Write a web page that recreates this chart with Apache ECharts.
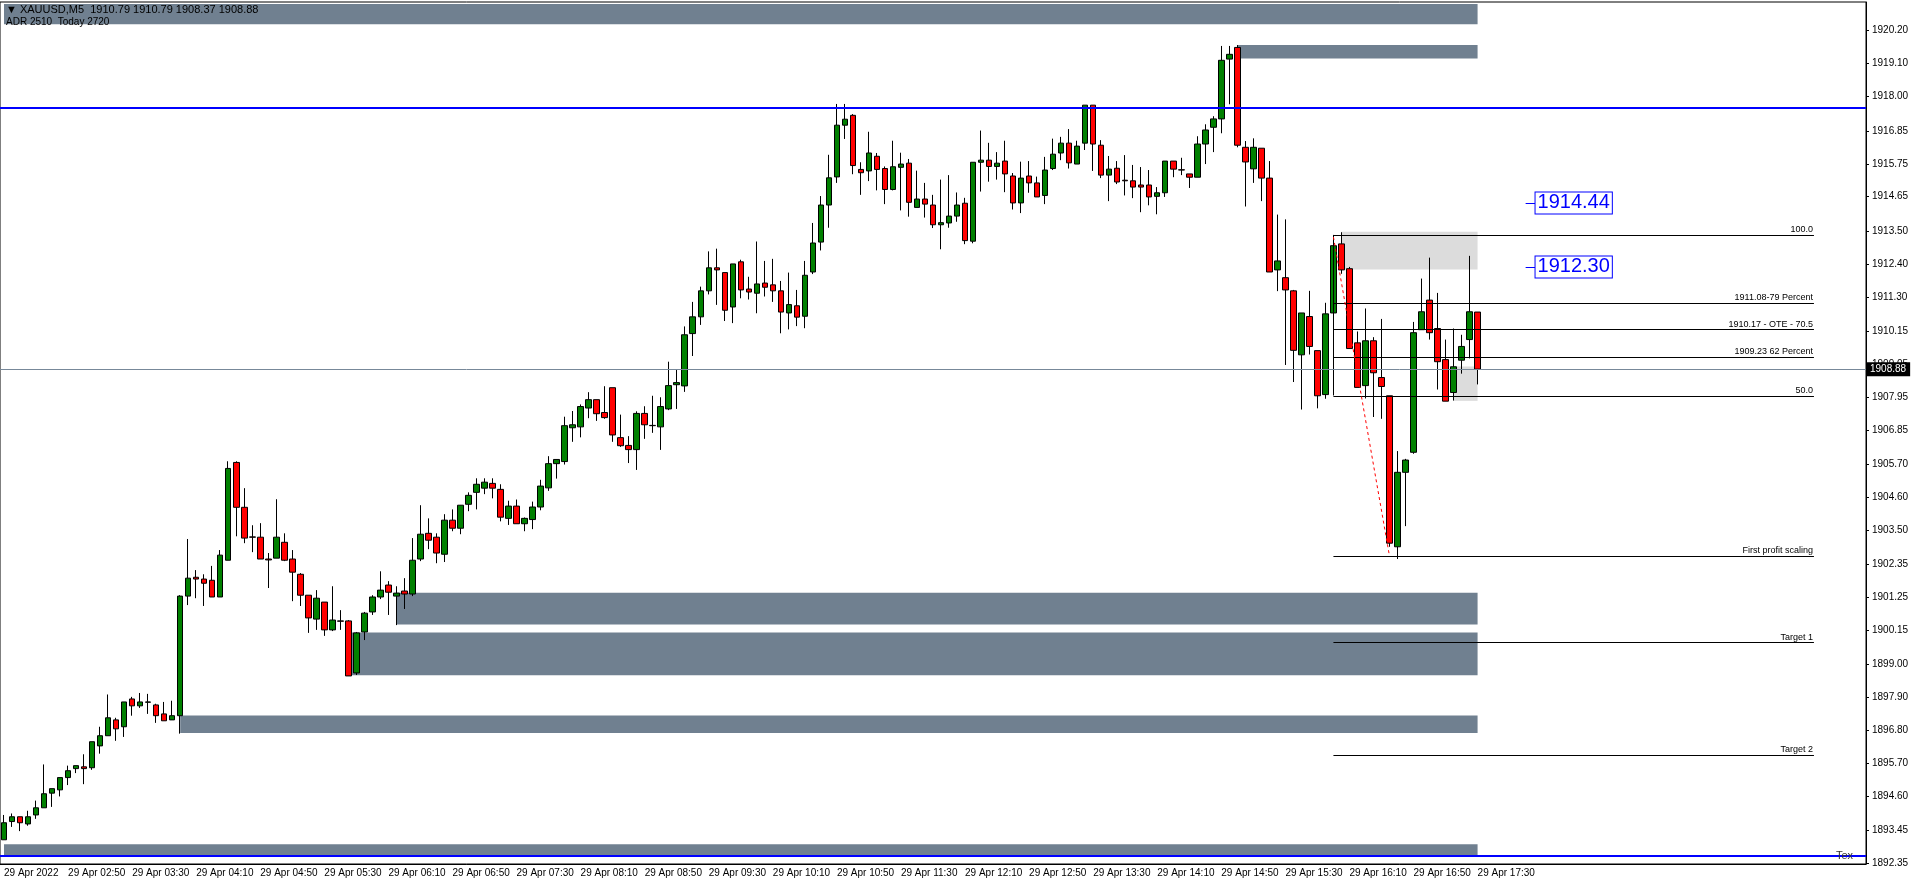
<!DOCTYPE html>
<html>
<head>
<meta charset="utf-8">
<script src="https://cdn.jsdelivr.net/npm/echarts@6/dist/echarts.min.js"></script>
<style>
  html, body { margin: 0; padding: 0; background: #fff; }
  #chart { width: 1912px; height: 885px; }
</style>
</head>
<body>
<div id="chart"></div>
<script>
// XAUUSD M5, 29 Apr 2022, first bar 02:10 -- rows are [open, high, low, close]
var bars = [
  [1893.14,1893.97,1893.14,1893.71],[1893.75,1894.02,1893.57,1893.91],[1893.91,1893.91,1893.43,1893.71],
  [1893.67,1894.11,1893.61,1893.91],[1893.97,1894.45,1893.84,1894.21],[1894.21,1895.66,1894.21,1894.68],
  [1894.70,1894.85,1894.24,1894.85],[1894.81,1895.22,1894.59,1895.22],[1895.22,1895.62,1894.97,1895.45],
  [1895.52,1895.62,1895.37,1895.62],[1895.58,1896.00,1895.00,1895.52],[1895.55,1896.42,1895.48,1896.42],
  [1896.28,1896.92,1896.02,1896.62],[1896.62,1898.00,1896.62,1897.22],[1897.15,1897.22,1896.45,1896.85],
  [1896.92,1897.75,1896.58,1897.75],[1897.85,1897.92,1897.29,1897.62],[1897.62,1898.05,1897.55,1897.75],
  [1897.74,1898.02,1897.35,1897.75],[1897.65,1897.69,1897.05,1897.29],[1897.35,1897.75,1897.12,1897.12],
  [1897.15,1897.79,1897.15,1897.29],[1897.29,1901.32,1896.69,1901.29],[1901.29,1903.20,1900.99,1901.89],
  [1901.92,1902.16,1901.22,1901.86],[1901.86,1902.02,1900.96,1901.72],[1901.82,1902.30,1901.26,1901.26],
  [1901.26,1902.83,1901.26,1902.66],[1902.49,1905.80,1902.49,1905.56],[1905.76,1905.80,1903.29,1904.26],
  [1904.26,1904.90,1903.06,1903.23],[1903.27,1903.66,1902.76,1903.26],[1903.26,1903.73,1902.53,1902.53],
  [1902.53,1902.73,1901.56,1902.50],[1902.56,1904.53,1902.56,1903.26],[1903.09,1903.39,1902.46,1902.49],
  [1902.53,1902.83,1901.12,1902.09],[1902.02,1902.06,1900.96,1901.32],[1901.32,1901.32,1900.06,1900.56],
  [1900.52,1901.49,1900.16,1901.22],[1901.09,1901.09,1899.96,1900.16],[1900.16,1901.62,1900.12,1900.49],
  [1900.46,1900.82,1900.16,1900.45],[1900.46,1900.49,1898.62,1898.62],[1898.72,1900.09,1898.65,1900.06],
  [1900.09,1900.76,1899.82,1900.72],[1900.76,1901.32,1900.66,1901.26],[1901.26,1902.12,1901.19,1901.49],
  [1901.66,1901.79,1900.66,1901.42],[1901.29,1901.62,1900.32,1901.39],[1901.46,1901.89,1900.86,1901.36],
  [1901.36,1903.23,1901.29,1902.49],[1902.53,1904.33,1902.46,1903.36],[1903.39,1903.89,1902.86,1903.16],
  [1903.26,1903.39,1902.39,1902.73],[1902.69,1904.03,1902.43,1903.83],[1903.83,1904.19,1903.46,1903.56],
  [1903.56,1904.33,1903.36,1904.33],[1904.36,1904.76,1904.13,1904.66],[1904.76,1905.23,1904.19,1905.03],
  [1904.90,1905.23,1904.70,1905.10],[1905.06,1905.23,1904.56,1904.90],[1904.86,1905.03,1903.79,1903.93],
  [1903.89,1904.48,1903.67,1904.30],[1904.30,1904.52,1903.71,1903.71],[1903.71,1903.92,1903.46,1903.89],
  [1903.85,1904.45,1903.53,1904.27],[1904.27,1905.18,1904.16,1904.97],[1904.91,1905.97,1904.81,1905.72],
  [1905.72,1905.86,1905.22,1905.86],[1905.79,1907.29,1905.69,1906.99],[1906.92,1907.48,1906.45,1907.02],
  [1906.95,1907.70,1906.60,1907.63],[1907.58,1908.11,1907.24,1907.86],[1907.86,1907.86,1907.15,1907.39],
  [1907.43,1908.31,1907.22,1907.26],[1908.26,1908.26,1906.45,1906.68],[1906.59,1907.36,1906.28,1906.32],
  [1906.33,1906.64,1905.74,1906.19],[1906.19,1907.47,1905.51,1907.40],[1907.40,1907.64,1906.55,1907.02],
  [1906.99,1907.99,1906.75,1907.00],[1906.95,1907.94,1906.18,1907.63],[1907.55,1909.13,1907.51,1908.33],
  [1908.36,1908.87,1907.55,1908.43],[1908.32,1910.31,1908.12,1910.03],[1910.07,1911.13,1909.32,1910.63],
  [1910.63,1911.64,1910.36,1911.50],[1911.50,1912.82,1911.38,1912.27],[1912.27,1912.91,1911.03,1912.20],
  [1912.11,1912.11,1910.49,1910.85],[1910.96,1912.40,1910.42,1912.40],[1912.47,1912.54,1911.25,1911.53],
  [1911.56,1911.97,1911.21,1911.46],[1911.42,1913.15,1910.75,1911.73],[1911.76,1912.50,1911.31,1911.62],
  [1911.70,1912.57,1911.13,1911.50],[1911.50,1911.83,1910.08,1910.79],[1910.76,1912.11,1910.21,1911.04],
  [1911.00,1911.53,1910.32,1910.62],[1910.65,1912.50,1910.25,1912.02],[1912.13,1913.77,1912.06,1913.10],
  [1913.13,1914.67,1912.85,1914.37],[1914.37,1916.05,1913.61,1915.28],[1915.31,1917.75,1915.11,1917.04],
  [1917.04,1917.75,1916.58,1917.24],[1917.37,1917.41,1915.40,1915.69],[1915.56,1915.80,1914.71,1915.45],
  [1915.51,1916.82,1915.17,1916.11],[1916.00,1916.11,1914.86,1915.56],[1915.59,1915.66,1914.40,1914.89],
  [1914.89,1916.52,1914.86,1915.65],[1915.63,1916.12,1914.19,1915.74],[1915.77,1915.91,1913.98,1914.46],
  [1914.29,1915.52,1914.29,1914.57],[1914.57,1915.11,1913.95,1914.40],[1914.37,1914.71,1913.60,1913.71],
  [1913.71,1915.22,1912.89,1913.78],[1913.77,1915.37,1913.61,1914.00],[1914.00,1914.79,1913.81,1914.37],
  [1914.43,1914.61,1913.06,1913.18],[1913.16,1915.80,1913.09,1915.80],[1915.80,1916.86,1914.82,1915.87],
  [1915.87,1916.45,1915.15,1915.66],[1915.66,1916.14,1915.22,1915.77],[1915.84,1916.52,1914.80,1915.41],
  [1915.34,1915.44,1914.22,1914.44],[1914.44,1915.82,1914.10,1915.27],[1915.34,1915.84,1914.78,1915.11],
  [1915.11,1915.32,1914.64,1914.64],[1914.69,1915.98,1914.40,1915.54],[1915.59,1916.59,1915.54,1916.07],
  [1916.11,1916.65,1915.87,1916.44],[1916.44,1916.91,1915.59,1915.78],[1915.74,1916.52,1915.74,1916.34],
  [1916.44,1917.71,1916.21,1917.71],[1917.71,1917.71,1915.51,1916.41],[1916.37,1916.54,1915.27,1915.37],
  [1915.37,1916.01,1914.50,1915.57],[1915.60,1915.84,1915.07,1915.14],[1915.20,1916.04,1914.69,1915.18],
  [1915.18,1915.71,1914.60,1914.97],[1915.04,1915.64,1914.13,1914.97],[1915.04,1915.54,1914.36,1914.64],
  [1914.66,1914.97,1914.06,1914.78],[1914.78,1915.84,1914.64,1915.84],[1915.84,1915.84,1915.30,1915.57],
  [1915.55,1915.95,1915.37,1915.54],[1915.41,1915.41,1914.94,1915.30],[1915.30,1916.67,1915.30,1916.41],
  [1916.41,1917.07,1915.74,1916.88],[1916.97,1917.34,1916.14,1917.25],[1917.25,1919.69,1916.77,1919.21],
  [1919.25,1919.69,1917.74,1919.41],[1919.64,1919.72,1916.30,1916.37],[1916.30,1916.51,1914.32,1915.81],
  [1915.58,1916.60,1915.11,1916.30],[1916.27,1916.27,1914.50,1915.27],[1915.27,1915.84,1912.13,1912.13],
  [1912.20,1914.05,1911.49,1912.50],[1911.94,1913.89,1909.02,1911.53],[1911.50,1911.53,1908.45,1909.51],
  [1909.36,1910.76,1907.53,1910.76],[1910.64,1911.50,1909.37,1909.64],[1909.50,1909.50,1907.57,1907.99],
  [1908.03,1911.10,1907.89,1910.73],[1910.76,1913.01,1909.42,1913.01],[1913.07,1913.46,1912.07,1912.20],
  [1912.24,1912.30,1909.57,1909.57],[1909.76,1910.14,1908.27,1908.27],[1908.33,1910.91,1907.90,1909.83],
  [1909.83,1909.95,1907.28,1908.76],[1908.60,1910.56,1907.22,1908.30],[1907.99,1907.99,1902.94,1903.06],
  [1902.94,1906.14,1902.53,1905.43],[1905.43,1905.88,1903.63,1905.84],[1906.10,1910.46,1906.05,1910.10],
  [1910.20,1911.91,1910.20,1910.80],[1911.19,1912.61,1909.87,1910.10],[1910.24,1911.43,1908.20,1909.13],
  [1909.20,1909.87,1907.81,1907.81],[1908.10,1910.24,1907.83,1908.96],[1909.18,1910.03,1908.73,1909.64],
  [1909.87,1912.67,1909.24,1910.80],[1910.79,1910.79,1908.37,1908.88]
];
var startMinutes = 2 * 60 + 10;
var totalSlots = 233;
var yTicks = [1920.20,1919.10,1918.00,1916.85,1915.75,1914.65,1913.50,1912.40,1911.30,1910.15,1909.05,
  1907.95,1906.85,1905.70,1904.60,1903.50,1902.35,1901.25,1900.15,1899.00,1897.90,1896.80,1895.70,
  1894.60,1893.45,1892.35];
// supply / demand zones: [fromBar, toBar, top, bottom]
var zones = [
  [0, 184, 1921.09, 1920.42],
  [154, 184, 1919.72, 1919.27],
  [49, 184, 1901.40, 1900.34],
  [43, 184, 1900.07, 1898.64],
  [22, 184, 1897.30, 1896.71],
  [0, 184, 1892.99, 1892.63]
];
var lightZones = [[167, 184, 1913.48, 1912.21], [181, 184, 1908.97, 1907.82]];
var levelPrices = [1913.37, 1911.10, 1910.20, 1909.27, 1907.99, 1902.63, 1899.73, 1895.96];
var levelNames = ['100.0', '1911.08-79 Percent', '1910.17 - OTE - 70.5', '1909.23 62 Percent', '50.0',
  'First profit scaling', 'Target 1', 'Target 2'];
var blueLevels = [1917.63, 1892.60];
var priceTags = [1914.44, 1912.30];
var lastPrice = 1908.88;

var cats = [];
for (var i = 0; i < totalSlots; i++) {
  var m = startMinutes + i * 5;
  var hh = ('0' + Math.floor(m / 60)).slice(-2), mm = ('0' + (m % 60)).slice(-2);
  cats.push(i === 0 ? '29 Apr 2022' : '29 Apr ' + hh + ':' + mm);
}
var kdata = bars.map(function (b) { return [b[0], b[3], b[2], b[1]]; });

var FONT = 'Liberation Sans';
var lines = [];
blueLevels.forEach(function (p) {
  lines.push({ yAxis: p, lineStyle: { color: '#0000ff', width: 2, type: 'solid' }, label: { show: false } });
});
levelPrices.forEach(function (p, k) {
  lines.push([{ coord: [166, p], lineStyle: { color: '#000', width: 1, type: 'solid' },
                label: { show: true, formatter: levelNames[k], position: 'insideEndTop', color: '#000',
                         fontSize: 9, fontFamily: FONT, distance: 1 } },
              { coord: [226, p] }]);
});
lines.push([{ coord: [166, 1913.37], lineStyle: { color: '#000', width: 1, type: 'solid' }, label: { show: false } },
            { coord: [166, 1908.0] }]);
lines.push([{ coord: [166, 1913.3], lineStyle: { color: '#ff0000', width: 1, type: [3, 3] }, label: { show: false } },
            { coord: [173, 1902.63] }]);
priceTags.forEach(function (p) {
  lines.push([{ coord: [190, p], lineStyle: { color: '#0000ff', width: 1, type: 'solid' }, label: { show: false } },
              { coord: [192, p] }]);
});
lines.push({ yAxis: lastPrice, lineStyle: { color: '#778899', width: 1, type: 'solid' },
             label: { show: true, position: 'end', formatter: '1908.88', backgroundColor: '#000',
                      color: '#fff', fontSize: 10, fontFamily: FONT, padding: [2, 4], distance: 0 } });

var areas = zones.map(function (z) {
  return [{ coord: [z[0], z[2]], itemStyle: { color: '#708090' } }, { coord: [z[1], z[3]] }];
}).concat(lightZones.map(function (z) {
  return [{ coord: [z[0], z[2]], itemStyle: { color: '#dcdcdc' } }, { coord: [z[1], z[3]] }];
}));

var showTick = function (idx) { return idx % 8 === 0 && idx <= 184; };

var chart = echarts.init(document.getElementById('chart'));
chart.setOption({
  animation: false,
  backgroundColor: '#fff',
  grid: { left: 0, right: 46, top: 2, bottom: 21, show: true, borderColor: '#000', borderWidth: 1 },
  xAxis: {
    type: 'category', data: cats, boundaryGap: true,
    axisLine: { lineStyle: { color: '#000' } },
    axisTick: { interval: function (i) { return showTick(i); }, length: 3, lineStyle: { color: '#000' } },
    axisLabel: { interval: function (i) { return showTick(i); }, align: 'left', margin: 4, hideOverlap: false,
                 fontSize: 10, fontFamily: FONT, color: '#000' },
    splitLine: { show: false }
  },
  yAxis: {
    type: 'value', position: 'right', min: 1892.33, max: 1921.16, scale: true,
    axisLine: { show: true, lineStyle: { color: '#000' } },
    axisTick: { show: true, length: 3, customValues: yTicks, lineStyle: { color: '#000' } },
    axisLabel: { customValues: yTicks, fontSize: 10, fontFamily: FONT, color: '#000', margin: 6,
                 formatter: function (v) { return v.toFixed(2); } },
    splitLine: { show: false }
  },
  series: [{
    type: 'candlestick', data: kdata, barWidth: 6,
    itemStyle: { color: '#008000', color0: '#ff0000', borderColor: '#000', borderColor0: '#000', borderWidth: 1 },
    markArea: { silent: true, data: areas },
    markLine: { silent: true, symbol: 'none', data: lines, animation: false },
    markPoint: {
      silent: true, symbol: 'rect', symbolSize: 1,
      data: priceTags.map(function (p) {
        return { coord: [196, p], itemStyle: { color: 'rgba(0,0,0,0)' },
                 label: { show: true, position: 'inside', formatter: p.toFixed(2), color: '#0000ff',
                          fontSize: 20, fontFamily: 'Liberation Sans', backgroundColor: '#fff',
                          borderColor: '#0000ff', borderWidth: 1, padding: [1, 2, 0, 2] } };
      })
    }
  }],
  graphic: [
    { type: 'text', z: 100, left: 6, top: 4, style: { text: '\u25BC XAUUSD,M5  1910.79 1910.79 1908.37 1908.88',
      fill: '#000', font: '11px ' + FONT } },
    { type: 'text', z: 100, left: 6, top: 17, style: { text: 'ADR 2510  Today 2720', fill: '#000', font: '10px ' + FONT } },
    { type: 'text', z: 100, left: 1836, top: 850, style: { text: 'Tex', fill: '#333', font: '11px ' + FONT } }
  ]
});
</script>
</body>
</html>
